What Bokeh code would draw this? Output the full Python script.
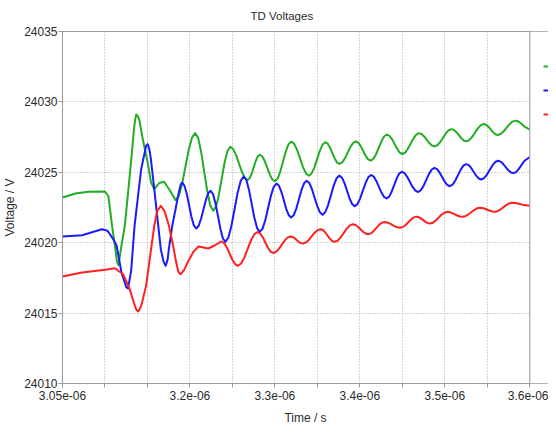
from bokeh.plotting import figure
from bokeh.models import (FixedTicker, CustomJSTickFormatter, Legend, LegendItem, Range1d,
                          BoxAnnotation, Span)
from bokeh.embed import file_html
from bokeh.resources import INLINE

# ---- data: (time in microseconds, voltage in V) ----
GREEN = [
    (3.050, 24023.21), (3.0654, 24023.49), (3.0804, 24023.62), (3.1001, 24023.64), (3.1040, 24023.30),
    (3.1059, 24022.38), (3.1088, 24021.00), (3.1117, 24019.80), (3.1140, 24018.70), (3.1158, 24018.40),
    (3.1190, 24019.66), (3.1233, 24021.20), (3.1271, 24023.50), (3.1310, 24025.93), (3.1340, 24028.00),
    (3.1355, 24028.75), (3.1368, 24029.10), (3.1385, 24029.00), (3.1406, 24028.68), (3.1441, 24027.47),
    (3.1502, 24025.70), (3.1542, 24024.28), (3.1580, 24023.80), (3.1638, 24024.24), (3.1696, 24024.33),
    (3.1765, 24023.71), (3.1831, 24023.02), (3.1870, 24023.34), (3.1909, 24024.21), (3.1985, 24026.59),
    (3.2024, 24027.46), (3.2063, 24027.78), (3.2098, 24027.41), (3.2133, 24026.40), (3.2204, 24023.65),
    (3.2239, 24022.64), (3.2274, 24022.27), (3.2308, 24022.57), (3.2341, 24023.41), (3.2407, 24025.68),
    (3.2442, 24026.51), (3.2475, 24026.81), (3.2509, 24026.65), (3.2543, 24026.22), (3.2611, 24025.04),
    (3.2645, 24024.61), (3.2679, 24024.45), (3.2703, 24024.57), (3.2727, 24024.90), (3.2774, 24025.80),
    (3.2798, 24026.13), (3.2822, 24026.25), (3.2852, 24026.12), (3.2881, 24025.78), (3.2941, 24024.83),
    (3.2970, 24024.49), (3.3000, 24024.36), (3.3032, 24024.55), (3.3064, 24025.07), (3.3128, 24026.48),
    (3.3160, 24026.99), (3.3192, 24027.18), (3.3227, 24027.02), (3.3262, 24026.58), (3.3331, 24025.37),
    (3.3365, 24024.92), (3.3400, 24024.76), (3.3432, 24024.92), (3.3465, 24025.35), (3.3529, 24026.54),
    (3.3562, 24026.97), (3.3594, 24027.13), (3.3622, 24027.03), (3.3649, 24026.75), (3.3704, 24025.98),
    (3.3731, 24025.69), (3.3759, 24025.59), (3.3791, 24025.70), (3.3824, 24025.99), (3.3888, 24026.80),
    (3.3921, 24027.09), (3.3953, 24027.20), (3.3982, 24027.11), (3.4010, 24026.86), (3.4068, 24026.17),
    (3.4097, 24025.92), (3.4126, 24025.83), (3.4158, 24025.95), (3.4191, 24026.29), (3.4255, 24027.22),
    (3.4287, 24027.56), (3.4319, 24027.68), (3.4349, 24027.59), (3.4380, 24027.34), (3.4440, 24026.65),
    (3.4470, 24026.39), (3.4500, 24026.30), (3.4533, 24026.40), (3.4565, 24026.67), (3.4631, 24027.41),
    (3.4663, 24027.68), (3.4696, 24027.78), (3.4726, 24027.72), (3.4757, 24027.55), (3.4817, 24027.08),
    (3.4848, 24026.90), (3.4878, 24026.84), (3.4912, 24026.92), (3.4946, 24027.15), (3.5012, 24027.76),
    (3.5045, 24027.99), (3.5079, 24028.07), (3.5108, 24028.01), (3.5137, 24027.85), (3.5194, 24027.42),
    (3.5223, 24027.26), (3.5252, 24027.20), (3.5286, 24027.28), (3.5321, 24027.51), (3.5389, 24028.12),
    (3.5423, 24028.35), (3.5457, 24028.43), (3.5485, 24028.38), (3.5513, 24028.24), (3.5567, 24027.85),
    (3.5595, 24027.70), (3.5623, 24027.65), (3.5658, 24027.72), (3.5692, 24027.91), (3.5762, 24028.42),
    (3.5796, 24028.60), (3.5831, 24028.67), (3.5860, 24028.62), (3.5891, 24028.50), (3.5943, 24028.22),
    (3.6000, 24028.03),
]

BLUE = [
    (3.050, 24020.44), (3.0731, 24020.53), (3.0963, 24020.96), (3.1030, 24020.85), (3.1097, 24020.25),
    (3.1137, 24019.78), (3.1194, 24017.88), (3.1252, 24016.82), (3.1271, 24016.75), (3.1308, 24018.00),
    (3.1348, 24021.20), (3.1426, 24025.22), (3.1484, 24026.88), (3.1502, 24027.00), (3.1520, 24026.70),
    (3.1539, 24026.00), (3.1580, 24023.80), (3.1657, 24019.54), (3.1690, 24018.65), (3.1715, 24018.36),
    (3.1737, 24018.80), (3.1753, 24019.60), (3.1792, 24021.20), (3.1869, 24023.57), (3.1890, 24024.10),
    (3.1907, 24024.28), (3.1935, 24024.06), (3.1963, 24023.46), (3.2018, 24021.83), (3.2046, 24021.23),
    (3.2074, 24021.01), (3.2102, 24021.19), (3.2130, 24021.68), (3.2187, 24023.02), (3.2215, 24023.51),
    (3.2243, 24023.69), (3.2272, 24023.45), (3.2301, 24022.78), (3.2359, 24020.97), (3.2388, 24020.30),
    (3.2417, 24020.06), (3.2453, 24020.37), (3.2489, 24021.22), (3.2561, 24023.54), (3.2597, 24024.39),
    (3.2633, 24024.70), (3.2665, 24024.44), (3.2696, 24023.72), (3.2759, 24021.75), (3.2791, 24021.03),
    (3.2822, 24020.77), (3.2855, 24021.00), (3.2888, 24021.63), (3.2953, 24023.34), (3.2986, 24023.97),
    (3.3019, 24024.20), (3.3048, 24024.04), (3.3077, 24023.60), (3.3134, 24022.39), (3.3163, 24021.95),
    (3.3192, 24021.79), (3.3222, 24021.96), (3.3253, 24022.44), (3.3313, 24023.75), (3.3344, 24024.23),
    (3.3374, 24024.40), (3.3405, 24024.24), (3.3436, 24023.80), (3.3499, 24022.59), (3.3530, 24022.15),
    (3.3561, 24021.99), (3.3594, 24022.18), (3.3627, 24022.69), (3.3693, 24024.07), (3.3726, 24024.58),
    (3.3759, 24024.77), (3.3789, 24024.62), (3.3819, 24024.23), (3.3879, 24023.14), (3.3909, 24022.74),
    (3.3939, 24022.59), (3.3971, 24022.74), (3.4003, 24023.15), (3.4068, 24024.26), (3.4100, 24024.66),
    (3.4132, 24024.81), (3.4163, 24024.70), (3.4193, 24024.39), (3.4254, 24023.56), (3.4285, 24023.25),
    (3.4315, 24023.14), (3.4345, 24023.27), (3.4374, 24023.62), (3.4434, 24024.57), (3.4463, 24024.91),
    (3.4493, 24025.04), (3.4525, 24024.94), (3.4557, 24024.68), (3.4621, 24023.96), (3.4653, 24023.70),
    (3.4685, 24023.60), (3.4717, 24023.72), (3.4749, 24024.03), (3.4814, 24024.89), (3.4846, 24025.20),
    (3.4878, 24025.32), (3.4908, 24025.23), (3.4938, 24024.99), (3.4998, 24024.34), (3.5028, 24024.10),
    (3.5058, 24024.01), (3.5090, 24024.12), (3.5122, 24024.40), (3.5187, 24025.19), (3.5219, 24025.47),
    (3.5251, 24025.58), (3.5281, 24025.51), (3.5310, 24025.31), (3.5369, 24024.76), (3.5399, 24024.56),
    (3.5428, 24024.49), (3.5461, 24024.58), (3.5494, 24024.82), (3.5560, 24025.49), (3.5593, 24025.73),
    (3.5626, 24025.82), (3.5656, 24025.76), (3.5685, 24025.60), (3.5745, 24025.16), (3.5774, 24025.00),
    (3.5804, 24024.94), (3.5836, 24025.00), (3.5869, 24025.23), (3.5935, 24025.80), (3.6000, 24026.09),
]

RED = [
    (3.050, 24017.60), (3.0731, 24017.88), (3.1001, 24018.08), (3.1117, 24018.19), (3.1213, 24017.76),
    (3.1291, 24016.70), (3.1343, 24015.68), (3.1365, 24015.30), (3.1387, 24015.11), (3.1408, 24015.28),
    (3.1430, 24015.60), (3.1484, 24016.94), (3.1530, 24019.00), (3.1580, 24021.20), (3.1615, 24022.25),
    (3.1657, 24022.62), (3.1700, 24022.25), (3.1753, 24021.20), (3.1795, 24020.00), (3.1831, 24018.83),
    (3.1862, 24017.95), (3.1889, 24017.76), (3.1930, 24018.05), (3.1985, 24018.74), (3.2040, 24019.35),
    (3.2101, 24019.73), (3.2216, 24019.59), (3.2290, 24019.80), (3.2370, 24020.09), (3.2402, 24019.97),
    (3.2435, 24019.66), (3.2499, 24018.79), (3.2532, 24018.48), (3.2564, 24018.36), (3.2603, 24018.52),
    (3.2641, 24018.96), (3.2718, 24020.16), (3.2757, 24020.60), (3.2795, 24020.76), (3.2826, 24020.66),
    (3.2857, 24020.39), (3.2918, 24019.64), (3.2949, 24019.37), (3.2980, 24019.27), (3.3014, 24019.35),
    (3.3047, 24019.56), (3.3114, 24020.15), (3.3148, 24020.36), (3.3181, 24020.44), (3.3206, 24020.41),
    (3.3231, 24020.32), (3.3280, 24020.07), (3.3305, 24019.97), (3.3330, 24019.94), (3.3364, 24020.01),
    (3.3399, 24020.20), (3.3467, 24020.71), (3.3502, 24020.89), (3.3536, 24020.96), (3.3564, 24020.90),
    (3.3591, 24020.74), (3.3646, 24020.29), (3.3674, 24020.12), (3.3701, 24020.06), (3.3737, 24020.14),
    (3.3773, 24020.37), (3.3846, 24021.00), (3.3882, 24021.23), (3.3918, 24021.31), (3.3948, 24021.26),
    (3.3978, 24021.13), (3.4037, 24020.78), (3.4067, 24020.65), (3.4097, 24020.60), (3.4129, 24020.66),
    (3.4161, 24020.82), (3.4224, 24021.25), (3.4256, 24021.41), (3.4288, 24021.47), (3.4319, 24021.44),
    (3.4350, 24021.37), (3.4411, 24021.16), (3.4442, 24021.09), (3.4473, 24021.06), (3.4505, 24021.11),
    (3.4538, 24021.26), (3.4602, 24021.65), (3.4635, 24021.80), (3.4667, 24021.85), (3.4693, 24021.82),
    (3.4719, 24021.73), (3.4772, 24021.48), (3.4798, 24021.39), (3.4824, 24021.36), (3.4858, 24021.42),
    (3.4892, 24021.57), (3.4959, 24021.98), (3.4993, 24022.13), (3.5027, 24022.19), (3.5057, 24022.17),
    (3.5087, 24022.10), (3.5146, 24021.93), (3.5176, 24021.86), (3.5206, 24021.84), (3.5241, 24021.88),
    (3.5275, 24022.00), (3.5344, 24022.32), (3.5379, 24022.44), (3.5413, 24022.48), (3.5442, 24022.46),
    (3.5471, 24022.41), (3.5530, 24022.27), (3.5559, 24022.22), (3.5588, 24022.20), (3.5622, 24022.24),
    (3.5655, 24022.36), (3.5722, 24022.67), (3.5755, 24022.79), (3.5789, 24022.83), (3.5824, 24022.82),
    (3.5860, 24022.78), (3.5930, 24022.67), (3.6000, 24022.62),
]

X_TICKS = [3.05e-6, 3.10e-6, 3.15e-6, 3.20e-6, 3.25e-6, 3.30e-6, 3.35e-6, 3.40e-6, 3.45e-6, 3.50e-6, 3.55e-6, 3.60e-6]
X_TICK_LABELS = ["3.05e-06", "", "", "3.2e-06", "", "3.3e-06", "", "3.4e-06", "", "3.5e-06", "", "3.6e-06"]
Y_TICKS = [24010, 24015, 24020, 24025, 24030, 24035]

X_START, X_END = 3.05e-6, 3.6e-6
# the frame is widened past the axis end so the legend column at the right edge can be drawn
X_VIEW_END = 3.622e-6

US = 1e-6
FONT = "Liberation Sans"
TXT = "#2b2b2b"
GRAY = "#9a9a9a"


def xs(series):
    return [t * US for t, _ in series]


def ys(series):
    return [v for _, v in series]


p = figure(width=548, height=429, output_backend="svg", toolbar_location=None,
           x_range=Range1d(X_START, X_VIEW_END), y_range=Range1d(24010, 24035),
           min_border_left=54, min_border_right=0, min_border_top=31, min_border_bottom=46)

p.title.text = "TD Voltages"
p.title.text_font = FONT
p.title.text_font_size = "11.5px"
p.title.text_font_style = "normal"
p.title.text_color = TXT
p.title.align = "left"
p.title.offset = 188
p.title.vertical_align = "top"
p.title.standoff = 15

p.outline_line_color = GRAY
p.background_fill_color = "white"
p.border_fill_color = "white"

for ax in (p.xaxis[0], p.yaxis[0]):
    ax.axis_line_color = GRAY
    ax.major_tick_line_color = GRAY
    ax.major_tick_out = 4
    ax.major_tick_in = 0
    ax.minor_tick_line_color = None
    ax.major_label_text_font = FONT
    ax.major_label_text_font_size = "12px"
    ax.major_label_text_color = TXT
    ax.axis_label_text_font = FONT
    ax.axis_label_text_font_size = "12px"
    ax.axis_label_text_font_style = "normal"
    ax.axis_label_text_color = TXT

p.xaxis.ticker = FixedTicker(ticks=X_TICKS)
p.xaxis.formatter = CustomJSTickFormatter(args=dict(labels=X_TICK_LABELS), code="return labels[index];")
p.xaxis.bounds = (X_START, X_END)
p.xaxis.major_label_standoff = 3
p.xaxis.axis_label = "Time / s"
p.xaxis.axis_label_standoff = 8

p.yaxis.ticker = FixedTicker(ticks=Y_TICKS)
p.yaxis.major_label_standoff = 1
p.yaxis.axis_label = "Voltage / V"
p.yaxis.axis_label_standoff = 4

for g in (p.xgrid[0], p.ygrid[0]):
    g.grid_line_color = "#a8a8a8"
    g.grid_line_dash = "1 2"
    g.grid_line_width = 1

rg = p.line(xs(GREEN), ys(GREEN), line_color="#22ad22", line_width=2, line_join="round")
rb = p.line(xs(BLUE), ys(BLUE), line_color="#1a1aff", line_width=2, line_join="round")
rr = p.line(xs(RED), ys(RED), line_color="#ff2020", line_width=2, line_join="round")

# blank strip right of the axis end (outside the plotting area in the original)
strip = BoxAnnotation(left=X_END, fill_color="white", fill_alpha=1.0, line_color=None, level="overlay")
p.add_layout(strip)
# right border of the plotting area
p.add_layout(Span(location=X_END, dimension="height", line_color=GRAY, line_width=1, level="overlay"))

legend = Legend(items=[LegendItem(label=" ", renderers=[rg]),
                       LegendItem(label=" ", renderers=[rb]),
                       LegendItem(label=" ", renderers=[rr])],
                location=(481, 259), padding=0, margin=0, spacing=4,
                glyph_width=13, glyph_height=20, label_height=20, label_width=1,
                label_standoff=1, border_line_alpha=0, background_fill_alpha=0,
                label_text_font_size="4px", level="overlay")
p.add_layout(legend, "center")

open("out.html", "w").write(file_html(p, INLINE))
